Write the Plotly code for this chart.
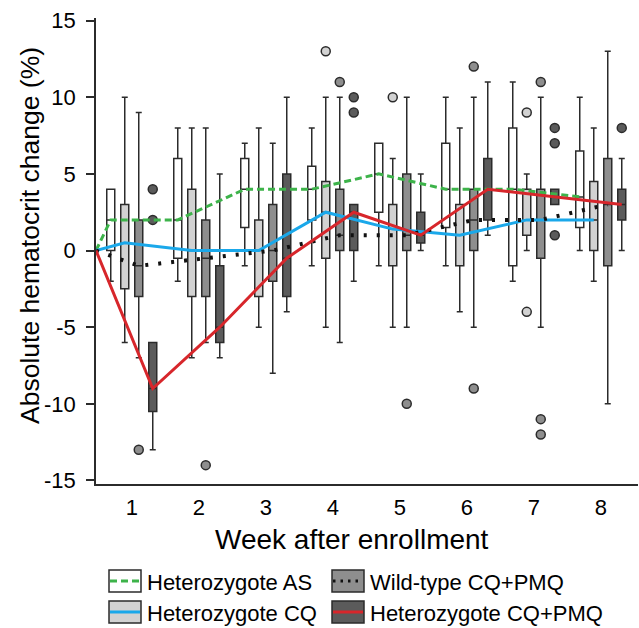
import plotly.graph_objects as go

# ---------------- data ----------------
weeks = [1, 2, 3, 4, 5, 6, 7, 8]
week_labels = ["1", "2", "3", "4", "5", "6", "7", "8"]
ytick_vals = [-15, -10, -5, 0, 5, 10, 15]
x_title = "Week after enrollment"
y_title = "Absolute hematocrit change (%)"

# Heterozygote AS (white boxes, green dashed median line)
as_q1 = [0, -0.5, 1.5, 2, 2.5, 1.5, -1, 1.5]
as_med = [2, 2, 4, 4, 5, 4, 4, 3.5]
as_q3 = [4, 6, 6, 5.5, 7, 7, 8, 6.5]
as_lo = [-2, -2, -1, -1, -1, -1, -2, 0]
as_hi = [4, 8, 7, 8, 7, 10, 11, 10]
as_out_wk = []
as_out_val = []

# Heterozygote CQ (light grey boxes, blue median line)
cq_q1 = [-2.5, -3, -3, -0.5, -1, -1, 1, 0]
cq_med = [0.5, 0, 0, 2.5, 1.4, 1, 2, 2]
cq_q3 = [3, 4, 2, 4.5, 3, 3, 4, 4.5]
cq_lo = [-6, -7, -5, -5, -5, -4, 0, -2]
cq_hi = [10, 8, 8, 10, 6, 8, 5, 8]
cq_out_wk = [4, 5, 7, 7]
cq_out_val = [13, 10, 9, -4]

# Wild-type CQ+PMQ (mid grey boxes, black dotted median line)
wt_q1 = [-3, -3, -2, 0, 0, 0, -0.5, -1]
wt_med = [-1, -0.5, 0, 1, 1, 2, 2, 3]
wt_q3 = [2, 2, 3, 4, 5, 4, 4, 6]
wt_lo = [-7, -6, -8, -6, -5, -5, -5, -10]
wt_hi = [9, 8, 7, 10, 10, 10, 10, 13]
wt_out_wk = [1, 2, 4, 5, 6, 6, 7, 7, 7]
wt_out_val = [-13, -14, 11, -10, 12, -9, 11, -11, -12]

# Heterozygote CQ+PMQ (dark grey boxes, red median line)
hp_q1 = [-10.5, -6, -3, 0, 0.5, 2, 3, 2]
hp_med = [-9, -5, -0.5, 2.5, 1, 4, 3.5, 3]
hp_q3 = [-6, -1, 5, 3, 2.5, 6, 4, 4]
hp_lo = [-13, -7, -4, -2, 0, 1, 3, 0]
hp_hi = [-6, 5, 10, 3, 5, 11, 4, 6]
hp_out_wk = [1, 1, 4, 4, 7, 7, 7, 8]
hp_out_val = [4, 2, 10, 9, 8, 7, 1, 8]

baseline_value = 0  # all series start at 0 change

# ---------------- styling ----------------
W, H = 639, 628
ML, MR, MT, MB = 96, 1, 18, 144
PW, PH = W - ML - MR, H - MT - MB
PX_PER_WEEK = 67.0
X_RANGE = [1 - 35.75 / PX_PER_WEEK, 1 - 35.75 / PX_PER_WEEK + PW / PX_PER_WEEK]
Y_RANGE = [-15.23, 15.17]
SLOT = 14.0 / PX_PER_WEEK
BOX_W = 8.0 / PX_PER_WEEK
EDGE = "#2b2b2b"
FONT = "Liberation Sans, Arial, sans-serif"
DOT_DASH = "3px,10px"

groups = [
    dict(name="Heterozygote AS", q1=as_q1, med=as_med, q3=as_q3, lo=as_lo, hi=as_hi,
         ow=as_out_wk, ov=as_out_val, fill="#ffffff", lcolor="#3db34a", dash="7px,4px", lw=3),
    dict(name="Heterozygote CQ", q1=cq_q1, med=cq_med, q3=cq_q3, lo=cq_lo, hi=cq_hi,
         ow=cq_out_wk, ov=cq_out_val, fill="#d2d2d2", lcolor="#1aa8ea", dash="solid", lw=3),
    dict(name="Wild-type CQ+PMQ", q1=wt_q1, med=wt_med, q3=wt_q3, lo=wt_lo, hi=wt_hi,
         ow=wt_out_wk, ov=wt_out_val, fill="#8e8e8e", lcolor="#111111", dash=DOT_DASH, lw=4),
    dict(name="Heterozygote CQ+PMQ", q1=hp_q1, med=hp_med, q3=hp_q3, lo=hp_lo, hi=hp_hi,
         ow=hp_out_wk, ov=hp_out_val, fill="#5b5b5b", lcolor="#d7262b", dash="solid", lw=3),
]

fig = go.Figure()

for i, g in enumerate(groups):
    off = (i - 1.5) * SLOT
    xs = [w + off for w in weeks]
    fig.add_trace(go.Box(
        x=xs, q1=g["q1"], median=g["med"], q3=g["q3"],
        lowerfence=g["lo"], upperfence=g["hi"],
        width=BOX_W, whiskerwidth=0.75,
        fillcolor=g["fill"], line=dict(color=EDGE, width=1.5),
        boxpoints=False, name=g["name"], showlegend=False,
    ))

for i, g in enumerate(groups):
    off = (i - 1.5) * SLOT
    if g["ow"]:
        fig.add_trace(go.Scatter(
            x=[w + off for w in g["ow"]], y=g["ov"], mode="markers",
            marker=dict(size=9, color=g["fill"], line=dict(color=EDGE, width=1.5)),
            showlegend=False, hoverinfo="skip",
        ))

for i, g in enumerate(groups):
    off = (i - 1.5) * SLOT
    fig.add_trace(go.Scatter(
        x=[X_RANGE[0]] + [w + off for w in weeks],
        y=[baseline_value] + g["med"],
        mode="lines", line=dict(color=g["lcolor"], width=g["lw"], dash=g["dash"]),
        showlegend=False, hoverinfo="skip", cliponaxis=False,
    ))

# ---------------- manual legend & titles ----------------
def xp(px):
    return (px - ML) / PW

def yp(py):
    return (H - MB - py) / PH

legend_items = [
    (0, 109, 570, 592),
    (2, 332, 570, 592),
    (1, 109, 601, 623),
    (3, 332, 601, 623),
]
shapes = []
annotations = []
for gi, x0, y0, y1 in legend_items:
    g = groups[gi]
    shapes.append(dict(type="rect", xref="paper", yref="paper",
                       x0=xp(x0), x1=xp(x0 + 32), y0=yp(y1), y1=yp(y0),
                       fillcolor=g["fill"], line=dict(color=EDGE, width=1.5)))
    ym = (y0 + y1) / 2
    is_dot = g["dash"] == DOT_DASH
    shapes.append(dict(type="line", xref="paper", yref="paper",
                       x0=xp(x0 + 1), x1=xp(x0 + 31), y0=yp(ym), y1=yp(ym),
                       line=dict(color=g["lcolor"], width=3,
                                 dash="2.5px,5px" if is_dot else g["dash"])))
    annotations.append(dict(xref="paper", yref="paper", x=xp(x0 + 36), y=yp(ym + 1),
                            text=g["name"], showarrow=False, xanchor="left", yanchor="middle",
                            font=dict(size=22, family=FONT, color="black")))

annotations.append(dict(xref="paper", yref="paper", x=xp(352), y=yp(539), text=x_title,
                        showarrow=False, xanchor="center", yanchor="middle",
                        font=dict(size=28, family=FONT, color="black")))
annotations.append(dict(xref="paper", yref="paper", x=xp(30), y=yp(236), text=y_title,
                        showarrow=False, xanchor="center", yanchor="middle", textangle=-90,
                        font=dict(size=26.5, family=FONT, color="black")))

fig.update_layout(
    width=W, height=H,
    margin=dict(l=ML, r=MR, t=MT, b=MB, pad=0),
    paper_bgcolor="white", plot_bgcolor="white",
    showlegend=False, boxmode="overlay",
    font=dict(family=FONT, color="black"),
    shapes=shapes, annotations=annotations,
    xaxis=dict(range=X_RANGE, tickmode="array", tickvals=weeks, ticktext=week_labels,
               showline=True, linecolor=EDGE, linewidth=2, ticks="", showgrid=False,
               zeroline=False, tickfont=dict(size=22, family=FONT, color="black"),
               ticklabelstandoff=3),
    yaxis=dict(range=Y_RANGE, tickmode="array", tickvals=ytick_vals,
               ticktext=[str(v) for v in ytick_vals],
               showline=True, linecolor=EDGE, linewidth=1.5, ticks="outside", ticklen=8,
               tickwidth=1.5, tickcolor=EDGE, showgrid=False, zeroline=False,
               tickfont=dict(size=22, family=FONT, color="black"), ticklabelstandoff=6),
)

fig.write_html("out.html")
